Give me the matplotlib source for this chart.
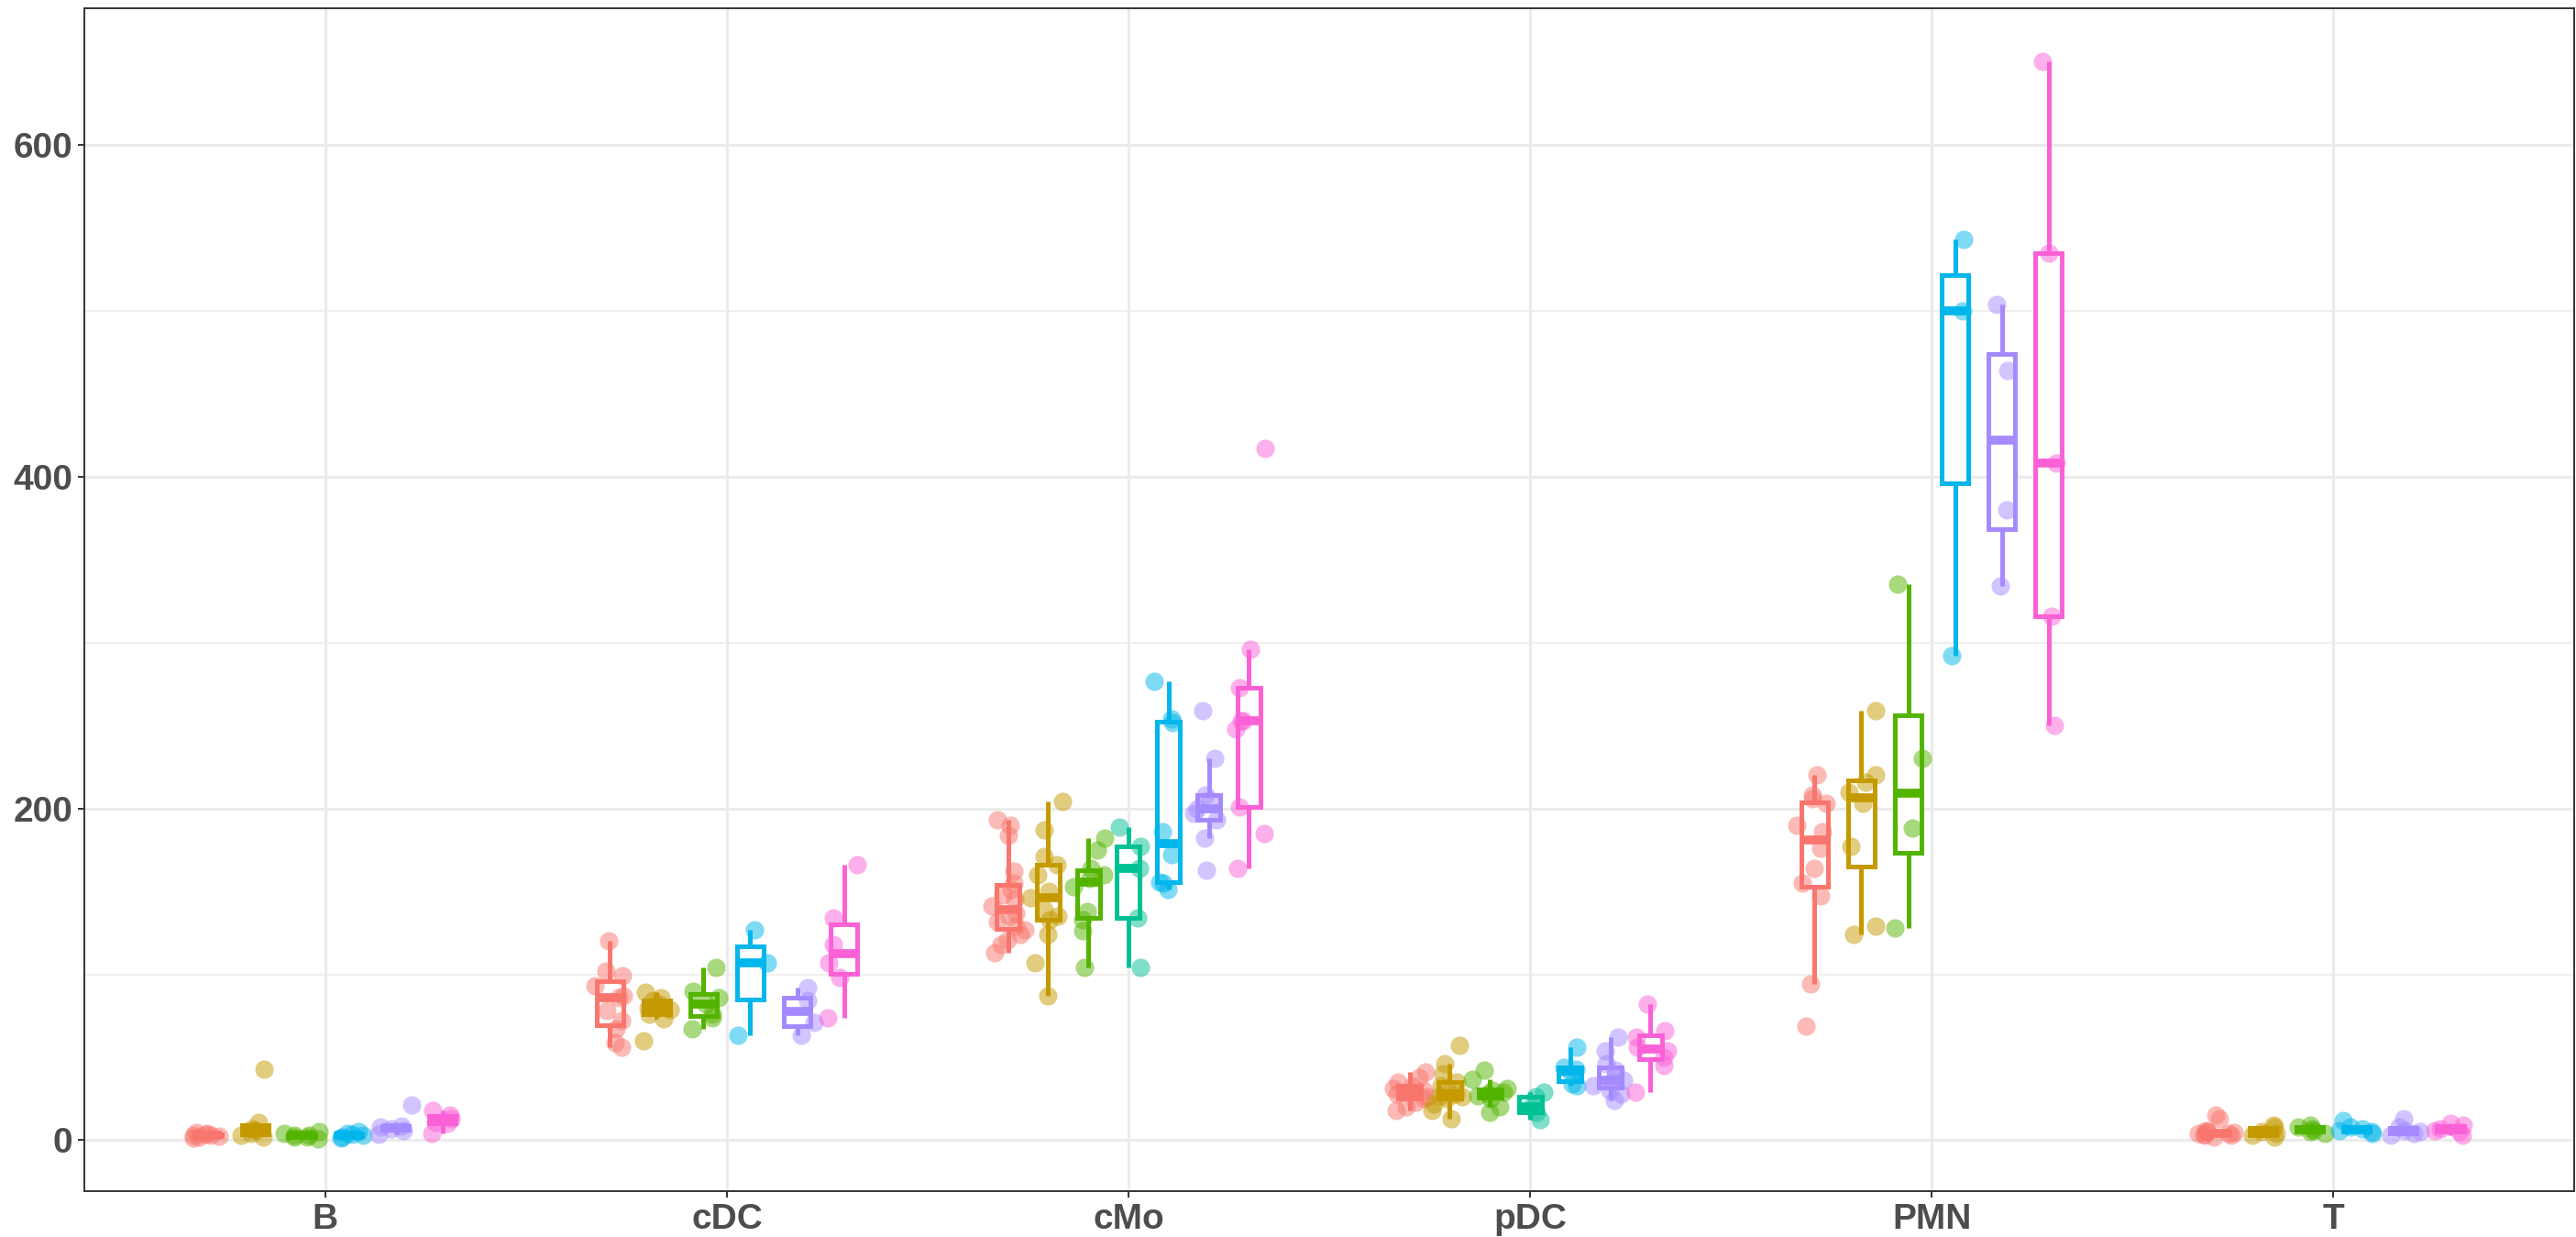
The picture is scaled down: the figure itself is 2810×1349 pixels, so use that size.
import matplotlib
matplotlib.use('Agg')
import matplotlib.pyplot as plt
import numpy as np
from matplotlib import cbook

plt.rcParams['font.family'] = ['Liberation Sans', 'DejaVu Sans']

# cell types on the x axis, 7 dodged groups (ggplot hue palette)
cell_types = ['B', 'cDC', 'cMo', 'pDC', 'PMN', 'T']
group_colors = ['#F8766D', '#C49A00', '#53B400', '#00C094', '#00B6EB', '#A58AFF', '#FB61D7']

# values per group (None = group absent in that cell type)
B_vals = [[1.5, 2, 2.5, 3, 3, 3.5, 4, 4.5],
          [2, 3, 4, 6, 7, 11, 43],
          [1, 2, 2, 3, 3, 4, 5],
          None,
          [1.5, 2, 3, 3.5, 4, 5],
          [3.5, 6, 7, 8, 8.5, 21],
          [4, 10, 11, 13, 15, 18]]
cDC_vals = [[56, 59, 67, 72, 78, 86, 87, 93, 99, 102, 120],
            [60, 73, 76, 79, 80, 82, 84, 86, 89],
            [67, 74, 76, 82, 86, 90, 104],
            None,
            [63, 107, 127],
            [63, 71, 84, 92],
            [74, 98, 107, 118, 134, 166]]
cMo_vals = [[113, 118, 121, 124, 127, 129, 132, 135, 137, 141, 145, 148, 151, 155, 162, 184, 190, 193],
            [87, 107, 124, 133, 135, 139, 146, 150, 160, 166, 171, 187, 204],
            [104, 126, 133, 138, 153, 158, 160, 164, 175, 182],
            [104, 134, 164, 177, 189],
            [151, 155, 155.5, 172, 186, 252, 254, 276.5],
            [163, 182, 193, 197, 200, 205, 208, 230, 259],
            [164, 185, 201, 248, 253, 253, 273, 296, 417]]
pDC_vals = [[18, 20, 23, 25, 26, 28, 29, 30, 31, 33, 35, 38, 41],
            [13, 18, 22, 25, 26, 27, 28, 31, 33, 35, 40, 46, 57],
            [17, 20, 25, 27, 28, 29, 30, 31, 37, 42],
            [12.5, 17, 20, 26, 29],
            [33, 34, 40, 43, 44, 56],
            [24, 28, 30, 33, 35, 36, 39, 42, 46, 54, 62],
            [29, 45, 50, 54, 56, 62, 66, 82]]
PMN_vals = [[69, 94, 147, 155, 164, 176, 186, 190, 203, 206, 208, 220],
            [124, 129, 177, 203, 210, 216, 220, 259],
            [128, 188, 230, 335],
            None,
            [292, 500, 543],
            [334, 380, 464, 504],
            [250, 316, 408, 535, 650]]
T_vals = [[2, 3, 3, 3.5, 4, 4, 4.5, 5, 5, 6, 13, 15],
          [2, 3, 4, 5, 8, 9],
          [4, 5, 6, 7, 8, 9],
          None,
          [4, 5, 6, 7, 8, 12],
          [3, 4, 5, 6, 8, 13],
          [3, 5, 6, 7, 9, 10]]

all_vals = [B_vals, cDC_vals, cMo_vals, pDC_vals, PMN_vals, T_vals]

fig = plt.figure(figsize=(28.1, 13.49), dpi=100)
ax = fig.add_axes([92/2810, 50/1349, 2716/2810, 1290/1349])

rng = np.random.default_rng(3)
dodge_w = 0.7
box_w = 0.4

for k, groups in enumerate(all_vals):
    present = [g for g in range(7) if groups[g] is not None]
    n = len(present)
    for j, g in enumerate(present):
        vals = np.array(groups[g], dtype=float)
        col = group_colors[g]
        pos = k + (j - (n - 1) / 2) * dodge_w / n
        stats = cbook.boxplot_stats(vals, whis=1.5)
        ax.bxp(stats, positions=[pos], widths=box_w / n, showfliers=False,
               showcaps=False, patch_artist=True,
               boxprops=dict(facecolor='white', edgecolor=col, linewidth=3.6),
               medianprops=dict(color=col, linewidth=7, solid_capstyle='butt'),
               whiskerprops=dict(color=col, linewidth=3.6, solid_capstyle='butt'),
               zorder=2)
        jx = pos + rng.uniform(-0.045, 0.045, len(vals))
        ax.scatter(jx, vals, s=210, color=col, alpha=0.5, linewidths=0, zorder=3)

ax.set_xlim(-0.6, 5.6)
ax.set_ylim(-30.7, 682.3)
ax.set_xticks(range(len(cell_types)))
ax.set_xticklabels(cell_types)
ax.set_yticks([0, 200, 400, 600])
ax.set_yticks([100, 300, 500], minor=True)

ax.set_axisbelow(True)
ax.grid(True, which='major', color='#EBEBEB', lw=2.2)
ax.grid(True, which='minor', axis='y', color='#EBEBEB', lw=1.1)

for s in ax.spines.values():
    s.set_color('#333333')
    s.set_linewidth(1.4)

ax.tick_params(axis='both', which='major', length=5, width=1.4, color='#333333',
               labelsize=28, labelcolor='#4D4D4D', pad=4)
ax.tick_params(axis='both', which='minor', length=0)
for lab in ax.get_xticklabels() + ax.get_yticklabels():
    lab.set_fontweight('bold')

fig.savefig('out.png', dpi=100)
